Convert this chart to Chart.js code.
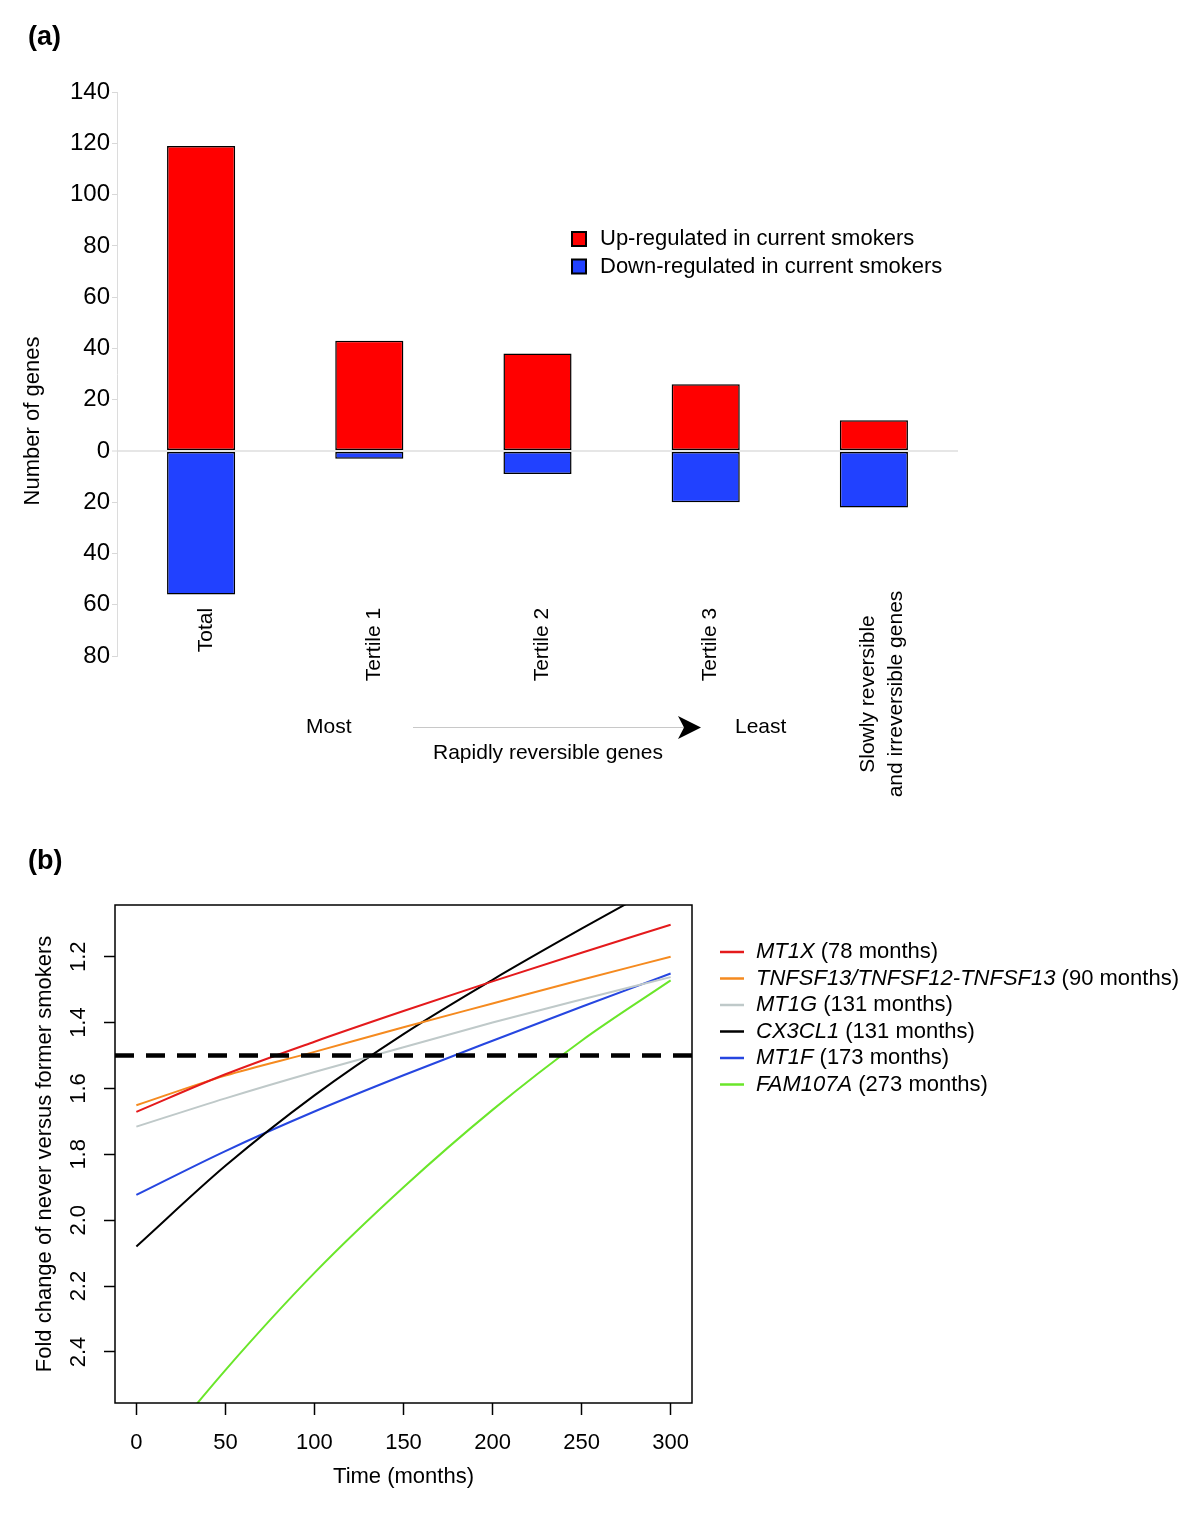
<!DOCTYPE html>
<html>
<head>
<meta charset="utf-8">
<title>Smoking reversible genes</title>
<script src="https://cdn.jsdelivr.net/npm/chart.js@4.4.1/dist/chart.umd.min.js"></script>
<style>
  html, body { margin: 0; padding: 0; background: #fff; }
  #wrap { position: relative; width: 1200px; height: 1534px; }
  canvas { position: absolute; left: 0; }
  #chartA { top: 0; }
  #chartB { top: 840px; }
</style>
</head>
<body>
<div id="wrap">
  <canvas id="chartA" width="1200" height="840"></canvas>
  <canvas id="chartB" width="1200" height="694"></canvas>
</div>
<script>
// panel (a) data
var categories = ['Total', 'Tertile 1', 'Tertile 2', 'Tertile 3', ['Slowly reversible', 'and irreversible genes']];
var upGenes = [119, 43, 38, 26, 12];
var downGenes = [-56, -3, -9, -20, -22];
var barLegend = ['Up-regulated in current smokers', 'Down-regulated in current smokers'];

// panel (b) data
var months = [0, 50, 100, 150, 200, 250, 300];
var geneNames = ['MT1X', 'TNFSF13/TNFSF12-TNFSF13', 'MT1G', 'CX3CL1', 'MT1F', 'FAM107A'];
var geneMonths = [78, 90, 131, 131, 173, 273];
var foldMT1X    = [1.671, 1.557, 1.458, 1.365, 1.275, 1.188, 1.103];
var foldTNFSF13 = [1.651, 1.561, 1.489, 1.414, 1.342, 1.270, 1.200];
var foldMT1G    = [1.716, 1.630, 1.550, 1.475, 1.400, 1.330, 1.262];
var foldCX3CL1  = [2.080, 1.835, 1.621, 1.435, 1.270, 1.115, 0.965];
var foldMT1F    = [1.923, 1.790, 1.670, 1.560, 1.455, 1.352, 1.251];
var foldFAM107A = [2.780, 2.455, 2.160, 1.900, 1.665, 1.455, 1.272];
var threshold = 1.5;
var xTicksB = [0, 50, 100, 150, 200, 250, 300];
var yTicksB = [1.2, 1.4, 1.6, 1.8, 2.0, 2.2, 2.4];

var FAM = '"Liberation Sans", Arial, Helvetica, sans-serif';
Chart.defaults.font.family = FAM;
Chart.defaults.color = '#000';

var RED = '#ff0000';
var BLUE = '#2141ff';
var geneColors = ['#e41a1c', '#f58a1f', '#bfc9c9', '#000000', '#2646e0', '#6ae62a'];
var X_MIN = -12, X_MAX = 312;

function txt(ctx, s, x, y, font, align, baseline, rot) {
  ctx.save();
  ctx.translate(x, y);
  if (rot) ctx.rotate(rot);
  ctx.font = font;
  ctx.fillStyle = '#000';
  ctx.textAlign = align || 'left';
  ctx.textBaseline = baseline || 'middle';
  ctx.fillText(s, 0, 0);
  ctx.restore();
}

// ---------- panel (a) ----------
var panelA = {
  id: 'panelA',
  afterDraw: function(chart) {
    var ctx = chart.ctx;
    var xs = chart.scales.x, ys = chart.scales.y;
    var f21 = '21px ' + FAM, f22 = '22px ' + FAM;

    txt(ctx, '(a)', 28, 38, 'bold 27px ' + FAM, 'left');
    txt(ctx, 'Number of genes', 33, 421, f22, 'center', 'middle', -Math.PI / 2);

    // category labels, rotated
    var labelTop = ys.getPixelForValue(-60) + 3;
    categories.forEach(function(c, i) {
      var px = xs.getPixelForValue(i);
      if (Array.isArray(c)) {
        c.forEach(function(line, j) {
          txt(ctx, line, px - 6 + 28 * j, 694, f21, 'center', 'middle', -Math.PI / 2);
        });
      } else {
        txt(ctx, c, px + 5, labelTop, f21, 'right', 'middle', -Math.PI / 2);
      }
    });

    // legend
    chart.data.datasets.forEach(function(ds, i) {
      var y = 239 + 27.5 * i;
      ctx.fillStyle = ds.backgroundColor;
      ctx.fillRect(572, y - 7, 14, 14);
      ctx.strokeStyle = '#000';
      ctx.lineWidth = 2;
      ctx.strokeRect(572, y - 7, 14, 14);
      txt(ctx, ds.label, 600, y, f22, 'left');
    });

    // reversibility arrow
    txt(ctx, 'Most', 306, 727, f21, 'left');
    txt(ctx, 'Least', 735, 727, f21, 'left');
    txt(ctx, 'Rapidly reversible genes', 548, 753, f21, 'center');
    ctx.save();
    ctx.strokeStyle = '#c8c8c8';
    ctx.lineWidth = 1;
    ctx.beginPath();
    ctx.moveTo(413, 727.5);
    ctx.lineTo(690, 727.5);
    ctx.stroke();
    ctx.fillStyle = '#000';
    ctx.beginPath();
    ctx.moveTo(701, 727.5);
    ctx.lineTo(678, 716);
    ctx.lineTo(684, 727.5);
    ctx.lineTo(678, 739);
    ctx.closePath();
    ctx.fill();
    ctx.restore();
  }
};

new Chart(document.getElementById('chartA').getContext('2d'), {
  type: 'bar',
  data: {
    labels: categories,
    datasets: [
      { label: barLegend[0], data: upGenes, backgroundColor: RED, borderColor: '#000', borderWidth: 1.5, borderSkipped: false },
      { label: barLegend[1], data: downGenes, backgroundColor: BLUE, borderColor: '#000', borderWidth: 1.5, borderSkipped: false }
    ]
  },
  options: {
    responsive: false,
    animation: false,
    devicePixelRatio: 1,
    barPercentage: 0.405,
    categoryPercentage: 1,
    layout: { padding: { left: 0, right: 242, top: 92.1, bottom: 183.9 } },
    scales: {
      x: { display: false, stacked: true },
      y: {
        stacked: true,
        min: -80, max: 140,
        ticks: { stepSize: 20, padding: 2, font: { size: 24 }, color: '#000',
                 callback: function(v) { return Math.abs(v); } },
        grid: {
          color: function(c) { return c.tick && c.tick.value === 0 ? '#e6e6e6' : 'rgba(0,0,0,0)'; },
          lineWidth: function(c) { return c.tick && c.tick.value === 0 ? 2 : 1; },
          tickColor: '#d8d8d8', tickWidth: 1, tickLength: 5
        },
        border: { display: true, color: '#dcdcdc', width: 1 },
        afterFit: function(s) { s.width = 117; }
      }
    },
    plugins: { legend: { display: false }, tooltip: { enabled: false } }
  },
  plugins: [panelA]
});

// ---------- panel (b) ----------
var panelB = {
  id: 'panelB',
  afterDraw: function(chart) {
    var ctx = chart.ctx, a = chart.chartArea, ys = chart.scales.y;
    var f22 = '22px ' + FAM;

    txt(ctx, '(b)', 28, 22, 'bold 27px ' + FAM, 'left');

    ctx.save();
    ctx.strokeStyle = '#000';
    ctx.lineWidth = 1.5;
    ctx.strokeRect(a.left, a.top, a.right - a.left, a.bottom - a.top);
    ctx.restore();

    yTicksB.forEach(function(v) {
      txt(ctx, v.toFixed(1), 79, ys.getPixelForValue(v), f22, 'center', 'middle', -Math.PI / 2);
    });

    geneNames.forEach(function(g, i) {
      var y = 112 + 26.5 * i;
      ctx.save();
      ctx.strokeStyle = geneColors[i];
      ctx.lineWidth = 2.5;
      ctx.beginPath();
      ctx.moveTo(720, y);
      ctx.lineTo(744, y);
      ctx.stroke();
      ctx.restore();
      ctx.font = 'italic ' + f22;
      var w = ctx.measureText(g).width;
      txt(ctx, g, 756, y, 'italic ' + f22, 'left');
      txt(ctx, ' (' + geneMonths[i] + ' months)', 756 + w, y, f22, 'left');
    });
  }
};

function series(vals) {
  return months.map(function(m, i) { return { x: m, y: vals[i] }; });
}
var geneSeries = [foldMT1X, foldTNFSF13, foldMT1G, foldCX3CL1, foldMT1F, foldFAM107A];
var datasetsB = [{
  label: 'threshold',
  data: [{ x: X_MIN, y: threshold }, { x: X_MAX, y: threshold }],
  borderColor: '#000', borderWidth: 4.5, borderDash: [19, 12],
  pointRadius: 0, clip: 0, order: -1
}];
geneSeries.forEach(function(vals, i) {
  datasetsB.push({
    label: geneNames[i],
    data: series(vals),
    borderColor: geneColors[i],
    borderWidth: 2,
    pointRadius: 0,
    cubicInterpolationMode: 'monotone',
    clip: 0,
    order: i
  });
});

new Chart(document.getElementById('chartB').getContext('2d'), {
  type: 'line',
  data: { datasets: datasetsB },
  options: {
    responsive: false,
    animation: false,
    devicePixelRatio: 1,
    layout: { padding: { left: 0, right: 508, top: 65, bottom: 0 } },
    scales: {
      x: {
        type: 'linear', min: X_MIN, max: X_MAX,
        afterBuildTicks: function(s) { s.ticks = xTicksB.map(function(v) { return { value: v }; }); },
        ticks: { font: { size: 22 }, padding: 15, color: '#000', maxRotation: 0 },
        grid: { drawOnChartArea: false, drawTicks: true, tickLength: 12, tickColor: '#000', tickWidth: 1.5 },
        border: { display: false },
        title: { display: true, text: 'Time (months)', font: { size: 22 }, color: '#000', padding: { top: 0, bottom: 44 } },
        afterFit: function(s) { s.height = 131; }
      },
      y: {
        type: 'linear', reverse: true, min: 1.043, max: 2.555,
        afterBuildTicks: function(s) { s.ticks = yTicksB.map(function(v) { return { value: v }; }); },
        ticks: { display: false },
        grid: { drawOnChartArea: false, drawTicks: true, tickLength: 11, tickColor: '#000', tickWidth: 1.5 },
        border: { display: false },
        title: { display: true, text: 'Fold change of never versus former smokers', font: { size: 22 }, color: '#000', padding: { top: 32, bottom: 0 } },
        afterFit: function(s) { s.width = 115; }
      }
    },
    plugins: { legend: { display: false }, tooltip: { enabled: false } }
  },
  plugins: [panelB]
});
</script>
</body>
</html>
